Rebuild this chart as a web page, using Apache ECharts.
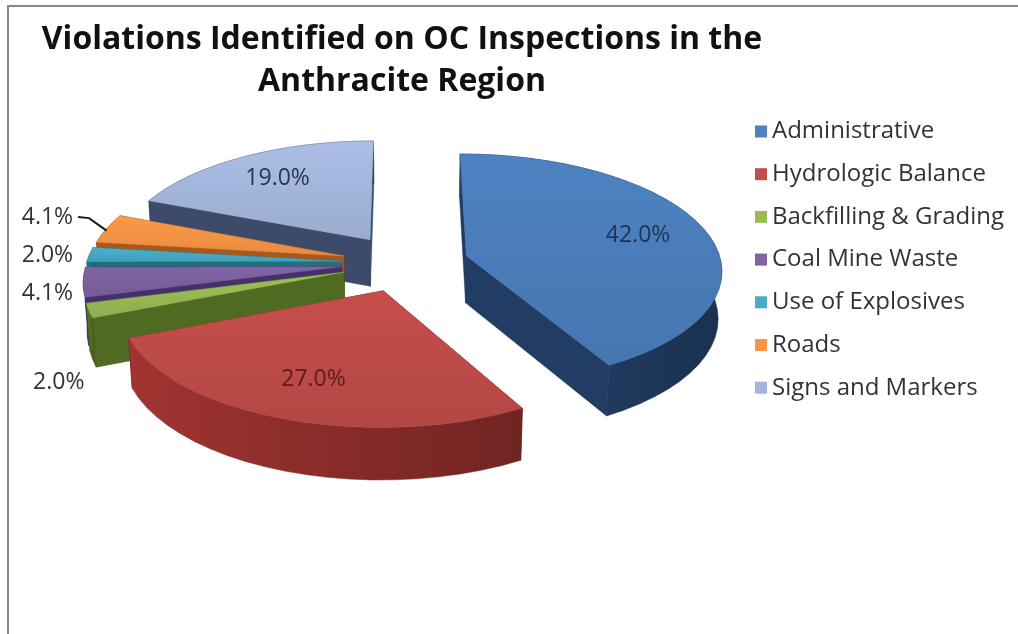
<!DOCTYPE html>
<html>
<head>
<meta charset="utf-8">
<script src="https://cdn.jsdelivr.net/npm/echarts@6/dist/echarts.min.js"></script>
<style>
  html, body { margin: 0; padding: 0; background: #fff; }
  #chart { width: 1018px; height: 634px; }
</style>
</head>
<body>
<div id="chart"></div>
<script>
// data
var categories = ['Administrative', 'Hydrologic Balance', 'Backfilling & Grading', 'Coal Mine Waste',
                  'Use of Explosives', 'Roads', 'Signs and Markers'];
var values = [42.0, 27.0, 2.0, 4.1, 2.0, 4.1, 19.0];

// look of the 3d pie
var topColors  = ['#4a7ebb', '#be4b48', '#98b954', '#7d60a0', '#46aac4', '#f69445', '#a4b7dc'];
var wallColors = ['#213d63', '#8c2d2b', '#4f6b22', '#44306a', '#226f80', '#a8581b', '#3c4b69'];
var textColors = ['#1f3352', '#5c1b1b', '#333', '#333', '#333', '#333', '#2a3650'];
var legendColors = ['#4f81bd', '#c0504d', '#9bbb59', '#8064a2', '#4bacc6', '#f79646', '#a3b5da'];

var CX = 405, CY = 263, S = 255;      // centre and radius on screen
var SIN_P = 0.45, COS_P = Math.sqrt(1 - 0.45 * 0.45); // camera tilt
var DIST = 8;                          // perspective distance
var THICK = 0.21;                      // pie thickness
var EXPLODE = 0.25;
var STEPS = 40;
var LABEL_GAP = 38;                    // min spacing of outside labels

// world (x right, z back, h up) -> screen
function proj(x, z, h) {
    var yp = h * COS_P + z * SIN_P;
    var zp = z * COS_P - h * SIN_P;
    var f = DIST / (DIST + zp);
    return [CX + S * x * f, CY - S * yp * f, zp];
}

function depthOf(pts3) {
    var s = 0;
    for (var i = 0; i < pts3.length; i++) s += pts3[i][2];
    return s / pts3.length;
}

function strip(p) { return [p[0], p[1]]; }

// build every face of every slice
var total = values.reduce(function (a, b) { return a + b; }, 0);
var slices = [];
var acc = 0;
for (var i = 0; i < values.length; i++) {
    var a0 = acc / total * Math.PI * 2;
    acc += values[i];
    var a1 = acc / total * Math.PI * 2;
    var mid = (a0 + a1) / 2;
    var ox = EXPLODE * Math.sin(mid), oz = EXPLODE * Math.cos(mid);

    var arcTop = [], arcBot = [];
    var n = Math.max(2, Math.ceil(STEPS * (a1 - a0) / Math.PI));
    for (var k = 0; k <= n; k++) {
        var a = a0 + (a1 - a0) * k / n;
        arcTop.push(proj(ox + Math.sin(a), oz + Math.cos(a), 0));
        arcBot.push(proj(ox + Math.sin(a), oz + Math.cos(a), -THICK));
    }
    var apexTop = proj(ox, oz, 0), apexBot = proj(ox, oz, -THICK);

    var faces = [];
    faces.push({ kind: 'radial', pts: [apexTop, arcTop[0], arcBot[0], apexBot] });
    faces.push({ kind: 'radial', pts: [apexTop, arcTop[n], arcBot[n], apexBot] });
    faces.push({ kind: 'outer', pts: arcTop.concat(arcBot.slice().reverse()) });
    faces.forEach(function (f) {
        // the outer wall is judged by its nearest point
        f.depth = f.kind === 'outer' ? Math.min.apply(null, f.pts.map(function (p) { return p[2]; })) : depthOf(f.pts);
    });
    var topFace = { kind: 'top', pts: [apexTop].concat(arcTop) };
    topFace.depth = depthOf(topFace.pts);

    slices.push({ a0: a0, a1: a1, mid: mid, ox: ox, oz: oz, walls: faces, topFace: topFace });
}

// painter's order: walls far to near, then tops far to near
var allWalls = [], allTops = [];
slices.forEach(function (s) {
    s.walls.forEach(function (f) { allWalls.push(f); });
    allTops.push(s.topFace);
});
allWalls.sort(function (a, b) { return b.depth - a.depth; });
allWalls.forEach(function (f, r) { f.z2 = r + 1; });
allTops.sort(function (a, b) { return b.depth - a.depth; });
allTops.forEach(function (f, r) { f.z2 = 500 + r; });

// label layout: big slices inside, small ones outside the rim
var groups = {};
slices.forEach(function (s, i) {
    var sx = Math.sin(s.mid), cz = Math.cos(s.mid);
    if (values[i] >= 10) {
        var p = proj(s.ox + 0.72 * sx, s.oz + 0.72 * cz, 0);
        s.label = { inside: true, x: p[0], y: p[1] };
        return;
    }
    var below = cz < -0.25;   // facing us: goes under the wall
    var rim = proj(s.ox + sx, s.oz + cz, 0);
    var q = proj(s.ox + sx, s.oz + cz, below ? -THICK - 0.1 : 0);
    var left = sx < 0;
    s.label = { inside: false, left: left, x: q[0] + (left ? -10 : 10), y: q[1], rim: rim };
    var key = (left ? 'L' : 'R') + (below ? 'B' : 'T');
    (groups[key] = groups[key] || []).push(s.label);
});
Object.keys(groups).forEach(function (key) {
    var g = groups[key].sort(function (a, b) { return a.y - b.y; });
    for (var it = 0; it < 30; it++) {
        for (var j = 1; j < g.length; j++) {
            var d = g[j].y - g[j - 1].y;
            if (d < LABEL_GAP) {
                g[j - 1].y -= (LABEL_GAP - d) / 2;
                g[j].y += (LABEL_GAP - d) / 2;
            }
        }
    }
    var xs = g.map(function (l) { return l.x; });
    var colX = g[0].left ? Math.min.apply(null, xs) : Math.max.apply(null, xs);
    g.forEach(function (l) {
        l.x = colX;
        l.leader = Math.abs(l.rim[0] - l.x) > 24;
    });
});

function shade(hex, k) {
    var c = parseInt(hex.slice(1), 16);
    var r = Math.min(255, Math.round((c >> 16 & 255) * k));
    var g = Math.min(255, Math.round((c >> 8 & 255) * k));
    var b = Math.min(255, Math.round((c & 255) * k));
    return 'rgb(' + r + ',' + g + ',' + b + ')';
}

function renderItem(params, api) {
    var idx = params.dataIndex;
    var s = slices[idx];
    var v = api.value(0);
    var children = [];
    s.walls.forEach(function (f) {
        var fill = f.kind === 'outer'
            ? new echarts.graphic.LinearGradient(0, 0, 1, 0, [
                { offset: 0, color: shade(wallColors[idx], 1.15) },
                { offset: 1, color: shade(wallColors[idx], 0.8) }])
            : wallColors[idx];
        children.push({
            type: 'polygon', z2: f.z2,
            shape: { points: f.pts.map(strip) },
            style: { fill: fill, stroke: shade(wallColors[idx], 0.85), lineWidth: 0.5 }
        });
    });
    children.push({
        type: 'polygon', z2: s.topFace.z2,
        shape: { points: s.topFace.pts.map(strip) },
        style: {
            fill: new echarts.graphic.LinearGradient(0, 0, 0, 1, [
                { offset: 0, color: shade(topColors[idx], 1.04) },
                { offset: 1, color: shade(topColors[idx], 0.94) }]),
            stroke: shade(topColors[idx], 0.9), lineWidth: 0.5
        }
    });

    var txt = v.toFixed(1) + '%';
    var lab = s.label;
    if (lab.inside) {
        children.push({
            type: 'text', z2: 900, x: lab.x, y: lab.y,
            style: { text: txt, align: 'center', verticalAlign: 'middle',
                     font: '23px "Open Sans"', fill: textColors[idx] }
        });
    } else {
        children.push({
            type: 'text', z2: 900, x: lab.x, y: lab.y,
            style: { text: txt, align: lab.left ? 'right' : 'left', verticalAlign: 'middle',
                     font: '23px "Open Sans"', fill: '#333' }
        });
        if (lab.leader) {
            var dir = lab.left ? 1 : -1;
            children.push({
                type: 'polyline', z2: 900,
                shape: { points: [[lab.x + 5 * dir, lab.y], [lab.x + 16 * dir, lab.y + 1], [lab.rim[0], lab.rim[1] + 2]] },
                style: { stroke: '#1a1a1a', lineWidth: 2, fill: null }
            });
        }
    }
    return { type: 'group', children: children };
}

var chart = echarts.init(document.getElementById('chart'));
var option = {
    backgroundColor: '#fff',
    animation: false,
    title: {
        text: 'Violations Identified on OC Inspections in the\nAnthracite Region',
        left: 397, top: 14, textAlign: 'center',
        textStyle: { fontFamily: 'Open Sans', fontWeight: 'bold', fontSize: 32, lineHeight: 42, color: '#111' }
    },
    legend: {
        orient: 'vertical', left: 750, top: 114,
        icon: 'rect', itemWidth: 12, itemHeight: 12, itemGap: 17.7,
        selectedMode: false,
        textStyle: { fontFamily: 'Open Sans', fontSize: 24, lineHeight: 25, color: '#333' },
        data: categories
    },
    graphic: [{
        type: 'rect', silent: true, z: -1,
        shape: { x: 8, y: 6, width: 1040, height: 660 },
        style: { fill: 'none', stroke: '#888', lineWidth: 2 }
    }],
    series: [{
        type: 'custom',
        coordinateSystem: 'none',
        renderItem: renderItem,
        data: values.map(function (v) { return [v]; })
    }, {
        // only feeds the legend its swatches
        type: 'pie', radius: [0, 0], center: [CX, CY], silent: true,
        label: { show: false }, labelLine: { show: false },
        data: values.map(function (v, i) {
            return { name: categories[i], value: v, itemStyle: { color: legendColors[i] } };
        })
    }]
};
chart.setOption(option);
</script>
</body>
</html>
